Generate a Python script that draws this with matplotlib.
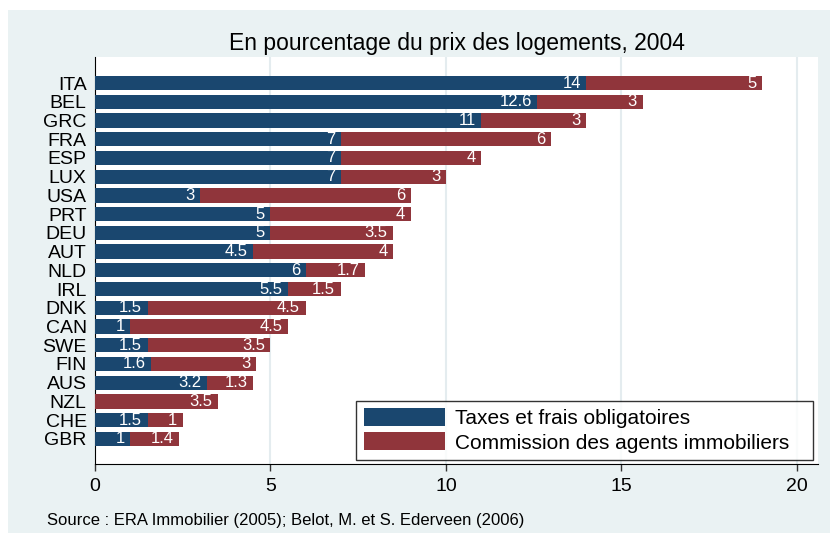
import numpy as np
import matplotlib
matplotlib.use("Agg")
import matplotlib.pyplot as plt
from matplotlib.patches import Rectangle

plt.rcParams['font.family'] = ['Liberation Sans', 'DejaVu Sans']

countries = ["ITA", "BEL", "GRC", "FRA", "ESP", "LUX", "USA", "PRT", "DEU", "AUT",
             "NLD", "IRL", "DNK", "CAN", "SWE", "FIN", "AUS", "NZL", "CHE", "GBR"]
taxes = [14, 12.6, 11, 7, 7, 7, 3, 5, 5, 4.5, 6, 5.5, 1.5, 1, 1.5, 1.6, 3.2, 0, 1.5, 1]
commission = [5, 3, 3, 6, 4, 3, 6, 4, 3.5, 4, 1.7, 1.5, 4.5, 4.5, 3.5, 3, 1.3, 3.5, 1, 1.4]
xticks = [0, 5, 10, 15, 20]

navy = "#1A476F"
maroon = "#90353B"
bg = "#EAF2F3"

fig = plt.figure(figsize=(8.3, 5.33), dpi=100)
fig.patches.append(Rectangle((8 / 830, 0), 1, 1 - 10 / 533, transform=fig.transFigure,
                             facecolor=bg, edgecolor="none", zorder=-10))
ax = fig.add_axes([95 / 830, 1 - 464 / 533, (818 - 95) / 830, (464 - 57) / 533])

n = len(countries)
y = np.arange(n)[::-1]
ax.barh(y, taxes, height=0.76, color=navy, label="Taxes et frais obligatoires", zorder=3)
ax.barh(y, commission, left=taxes, height=0.76, color=maroon,
        label="Commission des agents immobiliers", zorder=3)

def fmt(v):
    return ("%g" % v)

for yi, t, c in zip(y, taxes, commission):
    if t > 0:
        ax.annotate(fmt(t), (t, yi), xytext=(-4, 0), textcoords="offset points",
                    ha="right", va="center", color="white", fontsize=12, zorder=4)
    if c > 0:
        ax.annotate(fmt(c), (t + c, yi), xytext=(-4, 0), textcoords="offset points",
                    ha="right", va="center", color="white", fontsize=12, zorder=4)

ax.set_xlim(0, 20.6)
ax.set_ylim(-1.34, n - 1 + 1.39)
ax.set_yticks(y)
ax.set_yticklabels(countries, fontsize=14)
ax.set_xticks(xticks)
ax.set_xticklabels([str(v) for v in xticks], fontsize=14)
ax.tick_params(axis="y", length=0, pad=6)
ax.tick_params(axis="x", length=5, width=1, pad=5, color="#333333")

for v in xticks[1:]:
    ax.axvline(v, color="#E4ECEF", lw=1.5, zorder=1)

for s in ["top", "right"]:
    ax.spines[s].set_visible(False)
ax.spines["left"].set_color("black")
ax.spines["bottom"].set_color("black")

ax.set_title("En pourcentage du prix des logements, 2004", fontsize=16.5, pad=5)

leg = ax.legend(loc="lower left", bbox_to_anchor=(0.3615, 0.01, 0.6315, 0.15), mode="expand",
                fontsize=15, frameon=True, fancybox=False, edgecolor="black",
                handlelength=3.9, handleheight=0.95, handletextpad=0.5,
                labelspacing=0.2, borderpad=0.35, borderaxespad=0)
leg.get_frame().set_linewidth(1.0)

fig.text(47 / 830, 1 - 520 / 533, "Source : ERA Immobilier (2005); Belot, M. et S. Ederveen (2006)",
         fontsize=12, va="center", ha="left")

fig.savefig("out.png", dpi=100)
